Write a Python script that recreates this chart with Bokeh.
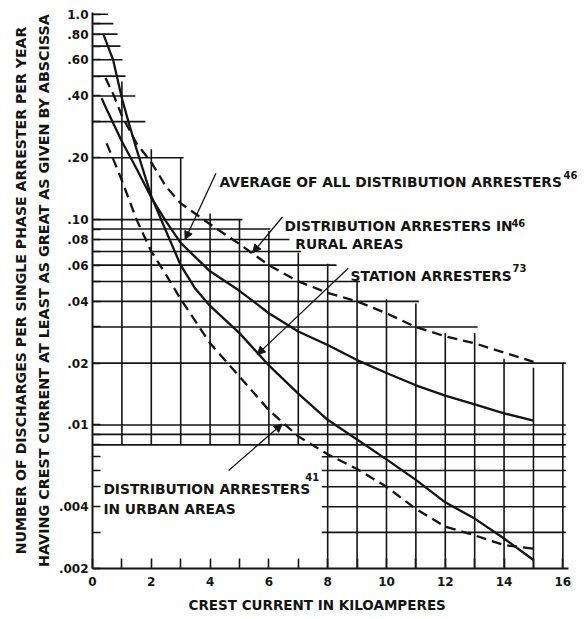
from bokeh.plotting import figure
from bokeh.models import Range1d, FixedTicker, Arrow, NormalHead, Title, Label
from bokeh.core.properties import value
from bokeh.embed import file_html
from bokeh.resources import INLINE

# ---------------- data ----------------
station_x = [0.37, 0.7, 1.0, 1.25, 1.5, 2.0, 2.5, 3.0, 3.5, 4.0, 5.0, 6.0, 7.0, 8.0, 9.0, 10.0, 11.0, 12.0, 13.0, 14.0, 15.0]
station_y = [0.80, 0.60, 0.39, 0.29, 0.22, 0.13, 0.088, 0.060, 0.046, 0.038, 0.028, 0.0195, 0.0142, 0.0106, 0.0085, 0.0068, 0.0054, 0.0042, 0.0035, 0.0028, 0.0022]

avg_x = [0.31, 0.5, 1.0, 1.5, 2.0, 2.5, 3.0, 4.0, 5.0, 6.0, 7.0, 8.0, 9.0, 10.0, 11.0, 12.0, 13.0, 14.0, 15.0]
avg_y = [0.39, 0.34, 0.24, 0.177, 0.128, 0.098, 0.077, 0.056, 0.045, 0.035, 0.0285, 0.0245, 0.0207, 0.0179, 0.0156, 0.0139, 0.0126, 0.0114, 0.0105]

rural_x = [0.44, 0.7, 1.0, 1.5, 2.0, 2.5, 3.0, 4.0, 5.0, 6.0, 7.0, 8.0, 9.0, 10.0, 11.0, 12.0, 13.0, 14.0, 15.0]
rural_y = [0.49, 0.41, 0.32, 0.235, 0.19, 0.145, 0.12, 0.095, 0.076, 0.060, 0.050, 0.044, 0.040, 0.035, 0.030, 0.027, 0.025, 0.0225, 0.0203]

urban_x = [0.48, 0.75, 1.0, 1.5, 2.0, 2.5, 3.0, 3.5, 4.0, 5.0, 6.0, 7.0, 8.0, 9.0, 10.0, 11.0, 12.0, 13.0, 14.0, 15.0]
urban_y = [0.235, 0.19, 0.155, 0.10, 0.070, 0.054, 0.041, 0.032, 0.025, 0.0172, 0.0118, 0.0088, 0.0072, 0.0061, 0.0050, 0.0039, 0.0032, 0.0029, 0.0026, 0.0025]

# tick labels
x_ticks = [0, 2, 4, 6, 8, 10, 12, 14, 16]
x_minor = [1, 3, 5, 7, 9, 11, 13, 15]
y_ticks = [0.002, 0.004, 0.01, 0.02, 0.04, 0.06, 0.08, 0.1, 0.2, 0.4, 0.6, 0.8, 1.0]
y_labels = [".002", ".004", ".01", ".02", ".04", ".06", ".08", ".10", ".20", ".40", ".60", ".80", "1.0"]
y_minor = [0.003, 0.005, 0.006, 0.007, 0.008, 0.009, 0.03, 0.05, 0.07, 0.09, 0.3, 0.5, 0.7, 0.9]

# stepped graph-paper grid of the original
grid_h_val = [1.0, 0.9, 0.8, 0.7, 0.6, 0.5, 0.4, 0.3, 0.2, 0.1, 0.09, 0.08, 0.07, 0.06, 0.05, 0.04, 0.03, 0.02,
              0.01, 0.009, 0.008, 0.007, 0.006, 0.005, 0.004, 0.003]
grid_h_from = [0] * 21 + [7.8] * 5
grid_h_to = [0.52, 0.71, 0.85, 0.95, 1.02, 1.12, 1.46, 1.8, 3.1, 5.1, 6.05, 6.7, 7.1, 8.3, 9.1, 11.1, 13.1, 16.1,
             16.1, 16.1, 16.1, 16.1, 16.1, 16.1, 16.1, 16.1]
grid_v_x = [1, 2, 3, 4, 5, 6, 7, 8, 9, 10, 11, 12, 13, 14, 15, 16]
grid_v_top = [0.47, 0.22, 0.2, 0.107, 0.1, 0.088, 0.069, 0.061, 0.05, 0.041, 0.039, 0.028, 0.028, 0.021, 0.019, 0.02]
grid_v_bottom = [0.008] * 7 + [0.002] * 9

# annotations
note_text = ["AVERAGE OF ALL DISTRIBUTION ARRESTERS", "DISTRIBUTION ARRESTERS IN", "RURAL AREAS",
             "STATION ARRESTERS", "DISTRIBUTION ARRESTERS", "IN URBAN AREAS"]
note_x = [4.32, 6.53, 6.9, 8.78, 0.37, 0.37]
note_y = [0.153, 0.0935, 0.0764, 0.0534, 0.0049, 0.0039]
ref_text = ["46", "46", "73", "41"]
ref_x = [16.02, 14.25, 14.29, 7.24]
ref_y = [0.164, 0.0959, 0.0584, 0.0056]
lead_x0 = [4.2, 6.46, 8.7, 4.63]
lead_y0 = [0.168, 0.103, 0.058, 0.006]
lead_x1 = [3.15, 5.45, 5.6, 6.45]
lead_y1 = [0.08, 0.069, 0.022, 0.0101]

INK = "#141414"
FONT = "DejaVu Sans"

p = figure(width=588, height=619, x_range=Range1d(0, 16.6), y_range=Range1d(0.002, 1.02),
           y_axis_type="log", output_backend="svg", toolbar_location=None,
           min_border_left=92, min_border_right=8, min_border_top=12, min_border_bottom=51,
           background_fill_color="white", border_fill_color="white", outline_line_color=None)
p.grid.visible = False

# grid
p.segment(x0=grid_h_from, y0=grid_h_val, x1=grid_h_to, y1=grid_h_val, line_color=INK, line_width=1.6)
p.segment(x0=grid_v_x, y0=grid_v_bottom, x1=grid_v_x, y1=grid_v_top, line_color=INK, line_width=1.6)

# curves
p.line(station_x, station_y, line_color=INK, line_width=2.3)
p.line(avg_x, avg_y, line_color=INK, line_width=2.3)
p.line(rural_x, rural_y, line_color=INK, line_width=2.3, line_dash="10 6")
p.line(urban_x, urban_y, line_color=INK, line_width=2.3, line_dash="10 6")

# labels
p.text(x=note_x, y=note_y, text=note_text, text_font=value(FONT), text_font_size="13.8px",
       text_font_style="bold", text_color=INK, text_align="left", text_baseline="alphabetic")
for t, xx, yy in zip(ref_text, ref_x, ref_y):
    p.add_layout(Label(x=xx, y=yy, text=t, text_font=FONT, text_font_size="10px",
                       text_font_style="bold", text_color=INK, text_align="left",
                       text_baseline="alphabetic"))
for xs, ys, xe, ye in zip(lead_x0, lead_y0, lead_x1, lead_y1):
    p.add_layout(Arrow(end=NormalHead(size=8, fill_color=INK, line_color=INK, line_width=1),
                       x_start=xs, y_start=ys, x_end=xe, y_end=ye, line_color=INK, line_width=1.3))

# axes
xa = p.xaxis[0]
xa.ticker = FixedTicker(ticks=x_ticks, minor_ticks=x_minor)
xa.bounds = (0, 16.2)
xa.axis_line_width = 2
xa.axis_line_color = INK
xa.major_tick_in = 10
xa.major_tick_out = 0
xa.minor_tick_in = 10
xa.minor_tick_out = 0
xa.major_tick_line_width = 1.6
xa.minor_tick_line_width = 1.6
xa.major_tick_line_color = INK
xa.minor_tick_line_color = INK
xa.major_label_text_font = FONT
xa.major_label_text_font_size = "12px"
xa.major_label_text_font_style = "bold"
xa.major_label_text_color = INK
xa.major_label_standoff = 8

ya = p.yaxis[0]
ya.ticker = FixedTicker(ticks=y_ticks, minor_ticks=y_minor)
ya.major_label_overrides = {t: s for t, s in zip(y_ticks, y_labels)}
ya.axis_line_width = 2
ya.axis_line_color = INK
ya.major_tick_in = 8
ya.major_tick_out = 0
ya.minor_tick_in = 8
ya.minor_tick_out = 0
ya.major_tick_line_width = 1.6
ya.minor_tick_line_width = 1.6
ya.major_tick_line_color = INK
ya.minor_tick_line_color = INK
ya.major_label_text_font = FONT
ya.major_label_text_font_size = "12px"
ya.major_label_text_font_style = "bold"
ya.major_label_text_color = INK
ya.major_label_standoff = 4

p.add_layout(Title(text="CREST CURRENT IN KILOAMPERES", align="left", offset=96,
                   text_font=FONT, text_font_size="13.5px", text_font_style="bold", text_color=INK,
                   standoff=12), "below")
p.add_layout(Title(text="HAVING CREST CURRENT AT LEAST AS GREAT AS GIVEN BY ABSCISSA", align="center",
                   offset=-9, text_font=FONT, text_font_size="14.3px", text_font_style="bold",
                   text_color=INK, standoff=8), "left")
p.add_layout(Title(text="NUMBER OF DISCHARGES PER SINGLE PHASE ARRESTER PER YEAR", align="center",
                   text_font=FONT, text_font_size="14.1px", text_font_style="bold", text_color=INK,
                   standoff=2), "left")

open("out.html", "w").write(file_html(p, INLINE))
